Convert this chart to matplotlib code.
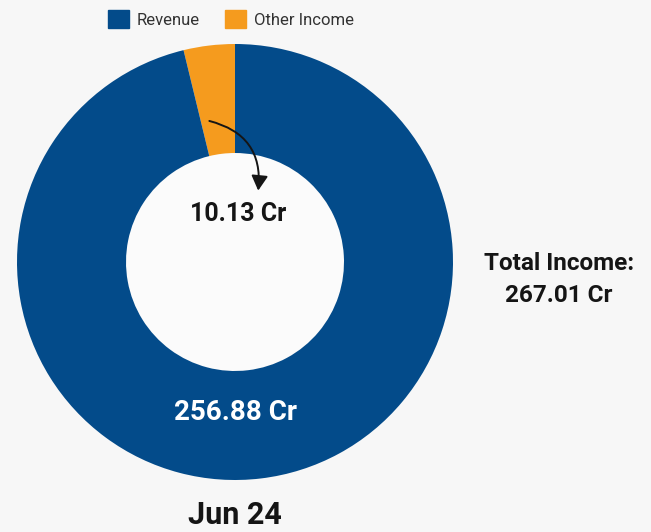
import matplotlib.pyplot as plt
from matplotlib.patches import Patch

plt.rcParams['font.family'] = ['Roboto', 'DejaVu Sans']

# data
labels = ['Other Income', 'Revenue']
values = [10.13, 256.88]
colors = ['#F59B1E', '#034B8A']
value_labels = ['10.13 Cr', '256.88 Cr']
total_label = 'Total Income:\n267.01 Cr'
period = 'Jun 24'

W, H = 651, 532
fig = plt.figure(figsize=(W / 100, H / 100), dpi=100, facecolor='#f7f7f7')

# donut centre ~ (235, 262) px, outer radius ~218 px
cx, cy, r = 235, 262, 218
ax = fig.add_axes([(cx - r) / W, (H - cy - r) / H, 2 * r / W, 2 * r / H])
ax.set_facecolor('#f7f7f7')
ax.pie(values, colors=colors, startangle=90, counterclock=True,
       wedgeprops=dict(width=0.5, edgecolor='none'))
ax.set_xlim(-1, 1)
ax.set_ylim(-1, 1)
ax.add_patch(plt.Circle((0, 0), 0.5, color='#fbfbfb', zorder=0))

ax.text(0.015, 0.22, value_labels[0], ha='center', va='center',
        fontsize=18, fontweight='bold', color='#151515')
ax.text(0.0, -0.69, value_labels[1], ha='center', va='center',
        fontsize=20, fontweight='bold', color='white')

# curved arrow from the orange slice down into the hole
ax.annotate('', xy=(0.105, 0.315), xytext=(-0.13, 0.65),
            arrowprops=dict(arrowstyle='-|>,head_length=0.9,head_width=0.5',
                            connectionstyle='arc3,rad=-0.45',
                            color='#151515', lw=1.4))

fig.text(559 / W, 1 - 279 / H, total_label, ha='center', va='center',
         fontsize=17.5, fontweight='bold', color='#151515', linespacing=1.5)
fig.text(cx / W, 1 - 515 / H, period, ha='center', va='center',
         fontsize=22, fontweight='bold', color='#151515')

handles = [Patch(color=colors[1], label=labels[1]),
           Patch(color=colors[0], label=labels[0])]
fig.legend(handles=handles, loc='center', bbox_to_anchor=(231 / W, 1 - 19 / H),
           ncol=2, frameon=False, fontsize=12, handlelength=1.25,
           handleheight=1.25, handletextpad=0.5, columnspacing=1.5,
           labelcolor='#333333')

fig.savefig('out.png', dpi=100, facecolor=fig.get_facecolor())
